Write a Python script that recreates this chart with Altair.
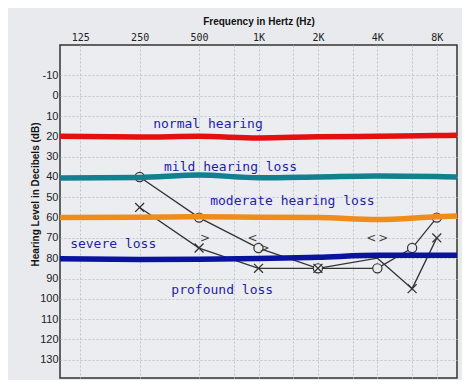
import altair as alt
import pandas as pd
import numpy as np

# ---------------- data ----------------
freq_ticks = [125, 250, 500, 1000, 2000, 4000, 8000]
freq_tick_labels = ["125", "250", "500", "1K", "2K", "4K", "8K"]
half_octaves = [750, 1500, 3000, 6000]
db_ticks = list(range(-10, 140, 10))

# right ear (O)
right_freqs = [250, 500, 1000, 2000, 4000, 6000, 8000]
right_db = [40, 60, 75, 85, 85, 75, 60]
# left ear (X); the 4K point sits under the blue line and has no visible mark
left_freqs = [250, 500, 1000, 2000, 4000, 6000, 8000]
left_db = [55, 75, 85, 85, 80, 95, 70]
left_marked = [True, True, True, True, False, True, True]

# bone conduction symbols
bone_freqs = [500, 1000, 1000, 4000, 4000]
bone_db = [70, 70, 75, 70, 70]
bone_sym = [">", "<", ">", "<", ">"]

# hand-drawn category lines (freq position in octaves above 125 Hz, dB)
band_names = ["normal", "mild", "moderate", "severe"]
band_colors = ["#e41010", "#12808f", "#ee8c1c", "#0a12a0"]
band_x = [-0.34, 1.0, 2.0, 3.0, 4.0, 5.0, 6.0, 6.34]
band_normal = [20.0, 20.3, 20.0, 20.8, 20.2, 20.0, 19.6, 19.5]
band_mild = [40.5, 40.2, 39.0, 40.4, 40.0, 39.5, 39.8, 40.0]
band_moderate = [60.0, 59.8, 59.6, 59.8, 60.0, 61.0, 59.6, 59.2]
band_severe = [80.3, 80.6, 80.5, 80.2, 79.5, 78.6, 78.5, 78.5]

# category labels (x in octaves above 125 Hz, dB)
label_text = ["normal hearing", "mild hearing loss", "moderate hearing loss",
              "severe loss", "profound loss"]
label_x = [2.15, 2.53, 3.57, 0.555, 2.39]
label_db = [13.8, 35.0, 51.7, 72.9, 95.6]

# ---------------- tables ----------------
def octv(f):
    return float(np.log2(f / 125.0))

right_df = pd.DataFrame({"x": [octv(f) for f in right_freqs], "db": right_db,
                         "ear": "right"})
left_df = pd.DataFrame({"x": [octv(f) for f in left_freqs], "db": left_db,
                        "ear": "left", "marked": left_marked})
bone_df = pd.DataFrame({"x": [octv(f) for f in bone_freqs], "db": bone_db,
                        "sym": bone_sym})
band_rows = []
for name, vals in zip(band_names, [band_normal, band_mild, band_moderate, band_severe]):
    for xx, v in zip(band_x, vals):
        band_rows.append({"band": name, "x": xx, "db": v})
band_df = pd.DataFrame(band_rows)
label_df = pd.DataFrame({"text": label_text, "x": label_x, "db": label_db})

grid_vals = sorted([octv(f) for f in freq_ticks] + [octv(f) for f in half_octaves])
label_js = "[" + ",".join("'%s'" % s for s in freq_tick_labels) + "]"

GRID = "#c3c4c9"
X = alt.X("x:Q",
          scale=alt.Scale(domain=[-0.34, 6.34], nice=False, zero=False),
          axis=alt.Axis(orient="top", values=grid_vals,
                        labelExpr="abs(datum.value - round(datum.value)) < 0.01 ? "
                                  + label_js + "[round(datum.value)] : ''",
                        labelOverlap=False, labelBound=False,
                        title="Frequency in Hertz (Hz)",
                        titleFont="Liberation Sans", titleFontSize=10,
                        titleFontWeight="bold", titleColor="#111",
                        titleY=-24, titleBaseline="middle",
                        labelFont="DejaVu Sans Mono", labelFontSize=10,
                        labelColor="#222", labelPadding=3,
                        ticks=False, domain=False, grid=True,
                        gridColor=GRID, gridDash=[2, 2], gridWidth=1))
Y = alt.Y("db:Q",
          scale=alt.Scale(domain=[-25, 139], nice=False, zero=False, reverse=True),
          axis=alt.Axis(values=db_ticks, labelExpr="datum.value + ''",
                        labelOverlap=False, labelBound=False,
                        title="Hearing Level in Decibels (dB)",
                        titleFont="Liberation Sans", titleFontSize=10,
                        titleFontWeight="bold", titleColor="#111",
                        titleAngle=270, titleX=-25, titleY=149,
                        titleAlign="center", titleBaseline="middle",
                        labelFont="Liberation Sans", labelFontSize=11,
                        labelColor="#222", labelPadding=2,
                        ticks=False, domain=False, grid=True,
                        gridColor=GRID, gridDash=[2, 2], gridWidth=1))

right_line = alt.Chart(right_df).mark_line(color="#333333", strokeWidth=1.3).encode(
    order="x:Q")
left_line = alt.Chart(left_df).mark_line(color="#333333", strokeWidth=1.3).encode(
    order="x:Q")
right_pts = alt.Chart(right_df).mark_point(
    shape="circle", size=85, filled=True, fill="#e9eaee",
    stroke="#333333", strokeWidth=1.2, opacity=1)
left_pts = alt.Chart(left_df).transform_filter("datum.marked").mark_point(
    shape="M-1,-1L1,1M-1,1L1,-1", size=80, filled=False,
    stroke="#333333", strokeWidth=1.3, opacity=1)
bone_left = alt.Chart(bone_df).transform_filter("datum.sym == '<'").mark_text(
    font="DejaVu Sans", fontSize=12, color="#444", baseline="middle", dx=-6).encode(
    text="sym:N")
bone_right = alt.Chart(bone_df).transform_filter("datum.sym == '>'").mark_text(
    font="DejaVu Sans", fontSize=12, color="#444", baseline="middle", dx=6).encode(
    text="sym:N")

bands = alt.Chart(band_df).mark_line(strokeWidth=5.5, interpolate="monotone").encode(
    color=alt.Color("band:N", scale=alt.Scale(domain=band_names, range=band_colors),
                    legend=None),
    detail="band:N", order="x:Q")

labels = alt.Chart(label_df).mark_text(
    font="DejaVu Sans Mono", fontSize=13, color="#1e1ea6",
    align="center", baseline="middle").encode(text="text:N")

chart = alt.layer(right_line, left_line, right_pts, left_pts, bone_left, bone_right,
                  bands, labels).encode(x=X, y=Y).properties(
    width=397, height=333,
    autosize=alt.AutoSizeParams(type="none"),
    padding={"left": 52, "top": 37, "right": 5, "bottom": 2},
    background="#e9eaee",
).configure_view(stroke="#333333", strokeWidth=1.5, fill="#ecedf0")

chart.save("out.html", embed_options={"renderer": "svg", "actions": False})
